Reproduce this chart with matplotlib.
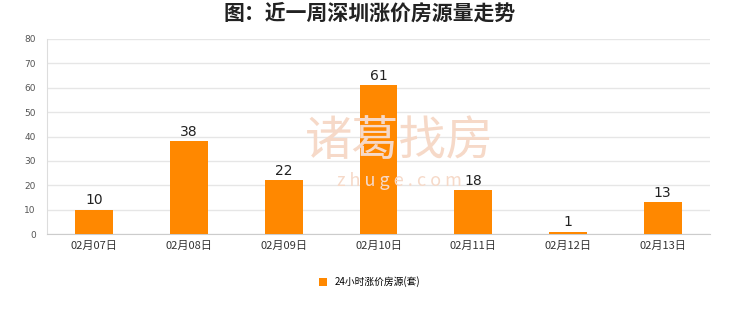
import matplotlib.pyplot as plt
import numpy as np

plt.rcParams['font.family'] = ['Noto Sans CJK SC', 'DejaVu Sans']

dates = ['02月07日', '02月08日', '02月09日', '02月10日', '02月11日', '02月12日', '02月13日']
counts = [10, 38, 22, 61, 18, 1, 13]
series_name = '24小时涨价房源(套)'
yticks = [0, 10, 20, 30, 40, 50, 60, 70, 80]

fig = plt.figure(figsize=(7.4, 3.12), dpi=100)
ax = fig.add_axes([47 / 740, 1 - 234 / 312, 663 / 740, 195 / 312])

# faint watermark behind the bars
fig.text(0.54, 0.545, '诸葛找房', fontsize=34, color='#f6d9c8', ha='center', va='center', zorder=0)
fig.text(0.54, 0.42, 'z h u g e . c o m', fontsize=13, color='#f6d9c8', ha='center', va='center', zorder=0)
ax.set_facecolor('none')

x = np.arange(len(dates))
ax.bar(x, counts, width=0.4, color='#FF8800', label=series_name, zorder=3)
for xi, v in zip(x, counts):
    ax.text(xi, v + 1, str(v), ha='center', va='bottom', fontsize=10, color='#222222',
            family='DejaVu Sans', zorder=4)

ax.set_xlim(-0.5, len(dates) - 0.5)
ax.set_ylim(0, 80)
ax.set_yticks(yticks)
ax.set_yticklabels([str(t) for t in yticks], family='DejaVu Sans')
ax.set_xticks(x)
ax.set_xticklabels(dates, fontsize=8, color='#333333')
ax.tick_params(axis='y', labelsize=6.5, colors='#555555', length=0, pad=8)
ax.tick_params(axis='x', length=0, pad=5)
ax.grid(axis='y', color='#e6e6e6', linewidth=1, zorder=0)
for s in ['top', 'right']:
    ax.spines[s].set_visible(False)
ax.spines['left'].set_color('#dddddd')
ax.spines['bottom'].set_color('#cccccc')

fig.suptitle('图：近一周深圳涨价房源量走势', y=0.99, fontsize=15, fontweight='bold', color='#222222')
fig.legend(loc='center', bbox_to_anchor=(0.5, 1 - 282 / 312), frameon=False, fontsize=7,
           handlelength=0.8, handleheight=0.8)
plt.savefig('out.png', dpi=100)
